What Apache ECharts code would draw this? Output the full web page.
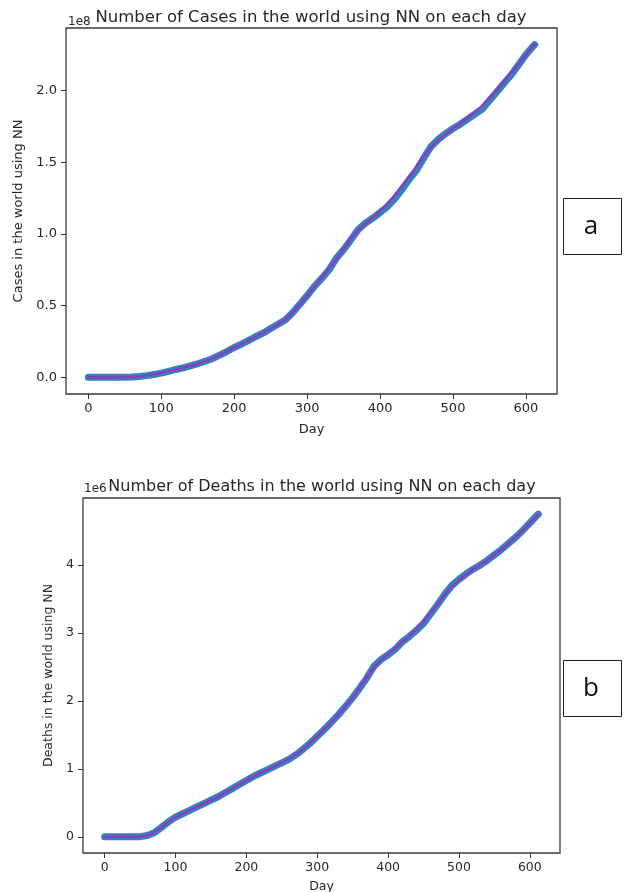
<!DOCTYPE html>
<html>
<head>
<meta charset="utf-8">
<script src="https://cdn.jsdelivr.net/npm/echarts@6/dist/echarts.min.js"></script>
<style>
html,body{margin:0;padding:0;background:#fff;}
#chart{width:625px;height:892px;}
</style>
</head>
<body>
<div id="chart"></div>
<script>
// ---- data ----
const days = [0,10,20,30,40,50,60,70,80,90,100,110,120,130,140,150,160,170,180,190,200,210,220,230,240,250,260,270,280,290,300,310,320,330,340,350,360,370,380,390,400,410,420,430,440,450,460,470,480,490,500,510,520,530,540,550,560,570,580,590,600,610,612];

// Cases (millions)
const casesActual = [0,0,0,0.05,0.08,0.1,0.2,0.6,1.2,2.0,3.0,4.2,5.5,6.6,8.0,9.5,11.2,13.0,15.5,18.0,20.8,23.2,25.8,28.5,31.0,34.0,37.0,40.0,45.0,51.0,57.0,63.5,69.0,75.0,83.0,89.0,96.0,103.0,107.5,111.0,115.0,119.0,124.5,131.0,138.0,144.5,153.0,161.0,166.0,170.0,173.5,176.5,180.0,183.5,187.0,193.0,199.0,205.0,211.0,218.0,225.0,231.0,232.0];
const casesPredicted = [0,0,0,0.05,0.08,0.1,0.3,0.7,1.3,2.1,3.0,4.2,5.5,6.7,8.0,9.5,11.2,13.1,15.5,18.0,20.7,23.2,25.8,28.4,31.0,34.0,37.0,40.3,45.0,51.0,57.0,63.0,69.5,76.0,82.5,89.5,96.5,102.5,107.0,111.5,116.0,121.0,127.0,133.5,140.0,147.0,154.0,160.5,165.5,169.5,173.5,177.0,181.0,185.0,189.5,195.0,200.5,206.5,212.5,218.5,225.0,231.0,232.0];

// Deaths (thousands)
const deathsActual = [0,0,0,0,0.5,3,20,60,140,220,290,340,390,440,490,540,590,650,710,770,830,890,940,990,1040,1090,1140,1210,1290,1380,1480,1580,1690,1800,1920,2050,2190,2340,2510,2610,2680,2760,2870,2950,3040,3140,3280,3420,3570,3700,3790,3870,3940,4000,4070,4150,4230,4320,4410,4510,4620,4730,4750];
const deathsPredicted = [0,0,0,0,0.5,3,22,62,140,220,290,340,390,440,490,540,590,650,710,770,830,890,940,990,1040,1090,1145,1210,1290,1380,1480,1580,1690,1800,1920,2050,2200,2350,2490,2600,2690,2780,2870,2960,3060,3170,3300,3430,3560,3680,3780,3860,3935,4000,4070,4150,4230,4320,4410,4510,4620,4730,4750];

const xTicks = [0,100,200,300,400,500,600];
const casesTicks = [0,0.5,1.0,1.5,2.0];   // x 1e8
const deathsTicks = [0,1,2,3,4];          // x 1e6

const titleCases = 'Number of Cases in the world using NN on each day';
const titleDeaths = 'Number of Deaths in the world using NN on each day';
const yNameCases = 'Cases in the world using NN';
const yNameDeaths = 'Deaths in the world using NN';
const xName = 'Day';

// ---- build ----
const pairs = (xs, ys, k) => xs.map((d, i) => [d, ys[i] * k]);
const FONT = 'DejaVu Sans';
const TXT = '#262626';
const BLUE = '#2a7ab6';
const MAG = '#b020c8';

function xAxisFor(gi, gap, fs) {
  return {
    type: 'value', gridIndex: gi, min: -30.6, max: 642.6,
    name: xName, nameLocation: 'middle', nameGap: gap,
    nameTextStyle: {fontFamily: FONT, fontSize: fs, color: TXT},
    splitLine: {show: false},
    axisLine: {show: false, onZero: false},
    axisTick: {show: true, length: 5, customValues: xTicks, lineStyle: {color: '#333'}},
    axisLabel: {fontFamily: FONT, fontSize: fs, color: TXT, margin: 8, customValues: xTicks,
      formatter: v => String(Math.round(v))}
  };
}
function yAxisFor(gi, min, max, ticks, scale, dec, name, gap, fs) {
  const cv = ticks.map(t => t * scale);
  return {
    type: 'value', gridIndex: gi, min: min, max: max,
    name: name, nameLocation: 'middle', nameGap: gap,
    nameTextStyle: {fontFamily: FONT, fontSize: fs, color: TXT},
    splitLine: {show: false},
    axisLine: {show: false, onZero: false},
    axisTick: {show: true, length: 5, customValues: cv, lineStyle: {color: '#333'}},
    axisLabel: {fontFamily: FONT, fontSize: fs, color: TXT, margin: 9, customValues: cv,
      formatter: v => (v / scale).toFixed(dec)}
  };
}
function seriesPair(gi, act, pred, k) {
  return [
    {type: 'line', xAxisIndex: gi, yAxisIndex: gi, data: pairs(days, act, k), showSymbol: false,
     lineStyle: {color: BLUE, width: 7, cap: 'round', join: 'round', opacity: 0.95}, silent: true, z: 2},
    {type: 'line', xAxisIndex: gi, yAxisIndex: gi, data: pairs(days, pred, k), showSymbol: false,
     lineStyle: {color: MAG, width: 2.2, cap: 'round', join: 'round', opacity: 0.8}, silent: true, z: 3}
  ];
}

const chart = echarts.init(document.getElementById('chart'), null, {renderer: 'canvas'});
chart.setOption({
  animation: false,
  backgroundColor: '#ffffff',
  title: [
    {text: titleCases, left: 306, top: 4, textAlign: 'center',
     textStyle: {fontFamily: FONT, fontSize: 16.5, fontWeight: 'normal', color: TXT}},
    {text: '1e8', left: 63, top: 11, textStyle: {fontFamily: FONT, fontSize: 12, fontWeight: 'normal', color: TXT}},
    {text: titleDeaths, left: 317, top: 474, textAlign: 'center',
     textStyle: {fontFamily: FONT, fontSize: 16, fontWeight: 'normal', color: TXT}},
    {text: '1e6', left: 79, top: 478, textStyle: {fontFamily: FONT, fontSize: 12, fontWeight: 'normal', color: TXT}}
  ],
  grid: [
    {left: 66, top: 28, width: 491, height: 366, show: true, borderColor: '#3a3a3a', borderWidth: 1.3, outerBoundsMode: 'none'},
    {left: 83, top: 498, width: 477, height: 355, show: true, borderColor: '#3a3a3a', borderWidth: 1.3, outerBoundsMode: 'none'}
  ],
  xAxis: [xAxisFor(0, 29, 13), xAxisFor(1, 27, 12.5)],
  yAxis: [
    yAxisFor(0, -0.116e8, 2.436e8, casesTicks, 1e8, 1, yNameCases, 41, 13),
    yAxisFor(1, -0.2375e6, 4.9875e6, deathsTicks, 1e6, 0, yNameDeaths, 25, 12.5)
  ],
  series: [].concat(seriesPair(0, casesActual, casesPredicted, 1e6), seriesPair(1, deathsActual, deathsPredicted, 1e3)),
  graphic: [
    {type: 'rect', shape: {x: 563.5, y: 198.5, width: 58, height: 56}, style: {fill: '#fff', stroke: '#222', lineWidth: 1}},
    {type: 'text', x: 591, y: 227, style: {text: 'a', fontFamily: 'Open Sans', fontSize: 26, fill: '#111', align: 'center', verticalAlign: 'middle'}},
    {type: 'rect', shape: {x: 563.5, y: 660.5, width: 58, height: 56}, style: {fill: '#fff', stroke: '#222', lineWidth: 1}},
    {type: 'text', x: 591, y: 689, style: {text: 'b', fontFamily: 'Open Sans', fontSize: 26, fill: '#111', align: 'center', verticalAlign: 'middle'}}
  ]
});
</script>
</body>
</html>
